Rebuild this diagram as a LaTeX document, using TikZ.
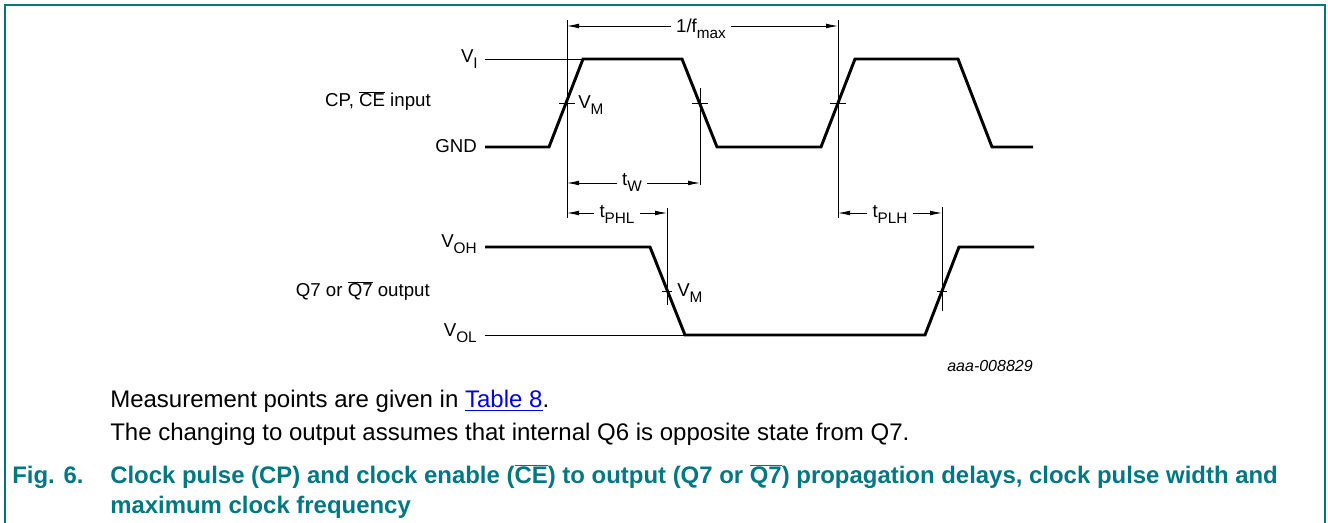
\documentclass[tikz,border=0pt]{standalone}
\usepackage{fontspec}
\setmainfont{Liberation Sans}
\usetikzlibrary{positioning,arrows.meta}
\definecolor{nxpteal}{RGB}{0,120,130}
\definecolor{linkblue}{RGB}{0,0,230}
\newcommand{\sbs}[1]{\raisebox{-0.3em}{\fontsize{11.5}{11.5}\selectfont #1}}
\newcommand{\ovl}[1]{$\overline{\mbox{#1}}$}
\tikzset{
  wave/.style={line width=2.2pt, line join=miter},
  refline/.style={line width=0.6pt},
  dim/.style={refline, {Latex[length=9pt,width=3.6pt]}-{Latex[length=9pt,width=3.6pt]}},
  lbl/.style={font=\fontsize{14}{16}\selectfont, inner sep=0pt},
  dimlbl/.style={lbl, fill=white, inner xsep=4pt, inner ysep=1pt},
  body/.style={font=\fontsize{18}{21}\selectfont, inner sep=0pt, anchor=base west},
  caption/.style={body, font=\fontsize{17.95}{21}\selectfont\bfseries, text=nxpteal}
}

\begin{document}
\begin{tikzpicture}[x=0.75pt,y=-0.75pt]
\useasboundingbox (0,0) rectangle (1328,523);
% frame
\draw[nxpteal, line width=1.5pt] (5,523) -- (5,5) -- (1325,5) -- (1325,523);

% crossing points
\coordinate (r1) at (567,103);
\coordinate (f1) at (700,103);
\coordinate (r2) at (838,103);
\coordinate (of) at (667,291);
\coordinate (or) at (942,291);

% input waveform
\draw[refline] (485,59) -- (583,59);
\draw[wave] (485,147) -- (549,147) -- (583,59) -- (682,59) -- (717,147)
  -- (821,147) -- (855,59) -- (958,59) -- (992,147) -- (1033,147);
% output waveform
\draw[refline] (485,335) -- (685,335);
\draw[wave] (485,247) -- (650,247) -- (685,335) -- (925,335) -- (959,247)
  -- (1034,247);

% level labels
\node[lbl, anchor=base east] (vi) at (478,63) {V\sbs{I}};
\node[lbl, anchor=base east] (gnd) at (477,153) {GND};
\node[lbl, anchor=base east] (voh) at (477,248) {V\sbs{OH}};
\node[lbl, anchor=base east] (vol) at (477,337) {V\sbs{OL}};
\node[lbl, anchor=base east] (cpin) at (431,107) {CP, \ovl{CE} input};
\node[lbl, anchor=base east] (qout) at (430,297) {Q7 or \ovl{Q7} output};

% measurement lines and ticks
\draw[refline] (r1 |- 0,20) -- (r1 |- 0,218);
\draw[refline] (f1 |- 0,88) -- (f1 |- 0,185);
\draw[refline] (r2 |- 0,20) -- (r2 |- 0,218);
\draw[refline] (of |- 0,208) -- (of |- 0,305);
\draw[refline] (or |- 0,207) -- (or |- 0,311);
\foreach \p in {r1,f1,r2}
  \draw[refline] ([xshift=-6pt]\p) -- ([xshift=6pt]\p);
\foreach \p in {of,or}
  \draw[refline] ([xshift=-4pt]\p) -- ([xshift=4pt]\p);
\node[lbl, anchor=base west] (vm1) at (578,109) {V\sbs{M}};
\node[lbl, anchor=base west] (vm2) at (677,297) {V\sbs{M}};

% timing arrows
\draw[dim] (r1 |- 0,26) -- (r2 |- 0,26);
\node[dimlbl, anchor=base] (fmax) at (701,33) {1/f\sbs{max}};
\draw[dim] (r1 |- 0,183) -- (f1 |- 0,183);
\node[dimlbl, anchor=base] (tw) at (632,186) {t\sbs{W}};
\draw[dim] (r1 |- 0,213) -- (of |- 0,213);
\node[dimlbl, anchor=base] (tphl) at (617,218) {t\sbs{PHL}};
\draw[dim] (r2 |- 0,213) -- (or |- 0,213);
\node[dimlbl, anchor=base] (tplh) at (890,218) {t\sbs{PLH}};

\node[lbl, anchor=base east, font=\fontsize{12}{14}\selectfont\itshape] (code) at (1033,372) {aaa-008829};

% notes and caption
\node[body] (note1) at (110,408) {Measurement points are given in \textcolor{linkblue}{\underline{Table 8}}.};
\node[body] (note2) at (110,441) {The changing to output assumes that internal Q6 is opposite state from Q7.};
\node[caption] (fig) at (12,484) {Fig. 6.};
\node[caption] (cap1) at (110,484) {Clock pulse (CP) and clock enable (\ovl{CE}) to output (Q7 or \ovl{Q7}) propagation delays, clock pulse width and};
\node[caption] (cap2) at (110,513) {maximum clock frequency};
\end{tikzpicture}
\end{document}
